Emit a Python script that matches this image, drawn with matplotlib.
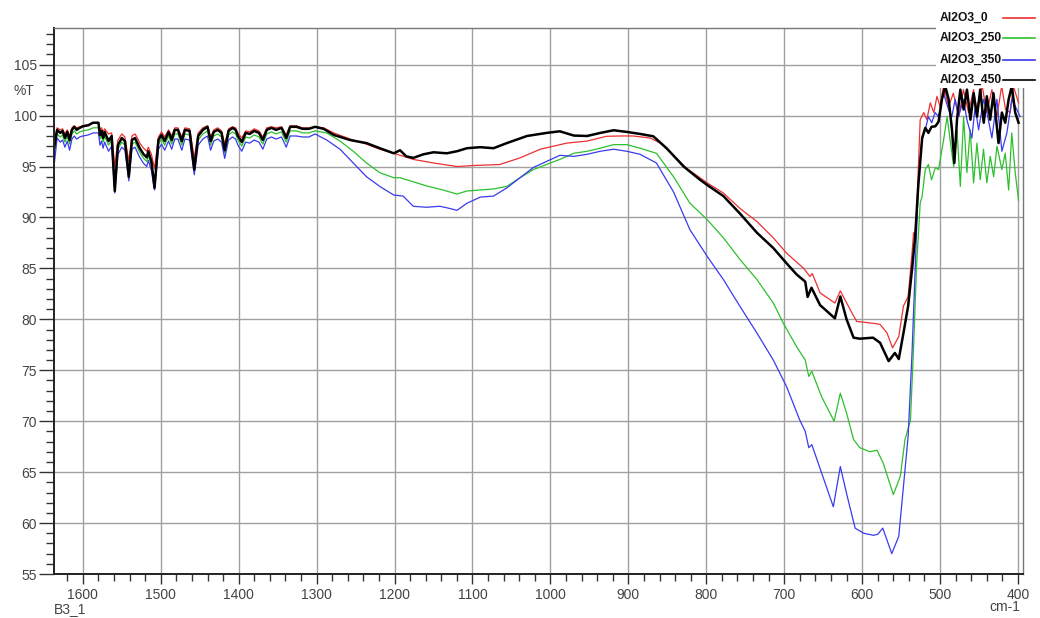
import matplotlib
matplotlib.use("Agg")
import matplotlib.pyplot as plt
from matplotlib.ticker import MultipleLocator
from matplotlib.patches import Rectangle
from matplotlib.lines import Line2D
import numpy as np

plt.rcParams['font.family'] = ['Liberation Sans', 'DejaVu Sans']

labels = ['Al2O3_0', 'Al2O3_250', 'Al2O3_350', 'Al2O3_450']
colors = ['#ee3030', '#2cc02c', '#3a3aee', '#000000']

# noisy region shared by all four spectra (cm-1)
wn_a = [1637, 1633, 1629, 1626, 1623, 1620, 1617, 1614, 1611, 1608,
        1604, 1600, 1593, 1587, 1580, 1578, 1576, 1574, 1572, 1567,
        1563, 1559, 1555, 1550, 1546, 1541, 1537, 1533, 1530, 1527,
        1522, 1518, 1516, 1512, 1508, 1503, 1499, 1495, 1490, 1486,
        1482, 1478, 1473, 1469, 1463, 1457, 1452, 1446, 1440, 1436,
        1432, 1427, 1422, 1418, 1413, 1408, 1404, 1401, 1396, 1391,
        1386, 1380, 1374, 1369, 1364, 1358, 1352, 1345, 1339, 1334,
        1326, 1318, 1310, 1302]

t_a_0 = [97.3, 98.8, 98.6, 98.7, 98.2, 98.6, 98.0, 98.8, 99.0, 98.8,
         98.9, 99.0, 99.1, 99.3, 99.3, 98.6, 98.8, 98.4, 98.7, 98.2,
         98.3, 95.0, 97.6, 98.2, 97.9, 95.5, 98.0, 98.2, 97.8, 97.3,
         96.8, 96.5, 96.9, 96.2, 94.8, 97.9, 98.4, 97.9, 98.6, 98.0,
         98.8, 98.8, 97.9, 98.8, 98.7, 95.8, 98.3, 98.8, 99.0, 97.9,
         98.6, 98.8, 98.5, 97.2, 98.7, 98.9, 98.8, 98.3, 97.8, 98.5,
         98.4, 98.7, 98.5, 97.9, 98.8, 98.9, 98.8, 98.9, 98.1, 99.0,
         99.0, 98.8, 98.8, 98.9]

t_a_250 = [96.0, 98.2, 97.9, 98.1, 97.4, 98.0, 97.2, 98.2, 98.5, 98.2,
           98.4, 98.5, 98.6, 98.8, 98.8, 97.7, 98.1, 97.4, 98.0, 97.1,
           97.6, 93.0, 96.7, 97.4, 97.1, 94.0, 97.2, 97.4, 96.9, 96.4,
           95.8, 95.5, 96.1, 95.1, 93.2, 97.2, 97.7, 97.1, 98.0, 97.2,
           98.2, 98.2, 97.1, 98.2, 98.1, 94.8, 97.6, 98.2, 98.5, 97.1,
           98.0, 98.2, 97.9, 96.3, 98.1, 98.4, 98.2, 97.6, 97.0, 97.9,
           97.8, 98.1, 97.9, 97.2, 98.2, 98.4, 98.2, 98.4, 97.4, 98.5,
           98.5, 98.3, 98.3, 98.5]

t_a_350 = [95.0, 97.8, 97.4, 97.6, 96.9, 97.5, 96.6, 97.7, 98.0, 97.7,
           97.9, 98.0, 98.1, 98.3, 98.3, 97.1, 97.5, 96.8, 97.4, 96.5,
           97.0, 92.4, 96.2, 96.9, 96.6, 93.6, 96.7, 96.9, 96.4, 95.9,
           95.3, 95.0, 95.6, 94.6, 92.7, 96.7, 97.2, 96.6, 97.5, 96.7,
           97.7, 97.7, 96.6, 97.7, 97.6, 94.2, 97.1, 97.7, 98.0, 96.6,
           97.5, 97.7, 97.4, 95.8, 97.6, 97.9, 97.7, 97.1, 96.5, 97.4,
           97.3, 97.6, 97.4, 96.7, 97.7, 97.9, 97.7, 97.9, 96.9, 98.0,
           98.0, 97.9, 97.9, 98.2]

t_a_450 = [96.8, 98.6, 98.3, 98.5, 97.8, 98.4, 97.6, 98.6, 98.9, 98.6,
           98.8, 98.95, 99.05, 99.3, 99.3, 98.1, 98.5, 97.8, 98.4, 97.5,
           98.0, 92.6, 97.1, 97.8, 97.5, 94.0, 97.6, 97.8, 97.3, 96.8,
           96.2, 95.9, 96.5, 95.5, 92.9, 97.6, 98.1, 97.5, 98.4, 97.6,
           98.6, 98.6, 97.5, 98.6, 98.5, 94.7, 98.0, 98.6, 98.9, 97.5,
           98.4, 98.6, 98.3, 96.6, 98.5, 98.8, 98.6, 98.0, 97.4, 98.3,
           98.2, 98.5, 98.3, 97.6, 98.6, 98.8, 98.6, 98.8, 97.8, 98.9,
           98.9, 98.7, 98.7, 98.9]

# rest of each spectrum (1300 -> 400 cm-1)
wn_b_0 = [1291, 1278, 1257, 1236, 1219, 1201, 1176, 1150, 1120, 1099,
          1065, 1039, 1013, 996, 979, 953, 928, 910, 894, 872,
          859, 842, 825, 808, 799, 778, 757, 735, 714, 697,
          675, 667, 664, 654, 635, 628, 615, 607, 596, 585,
          577, 568, 561, 553, 547, 541, 536, 534, 531, 528,
          525.5, 521, 517, 512.6, 508, 504, 500, 495.6, 489, 483,
          476, 470, 463.5, 457, 453, 446, 440, 433.5, 427, 421,
          416, 410, 406, 399.3]
t_b_0 = [98.8, 98.3, 97.7, 97.2, 96.7, 96.3, 95.7, 95.35, 95.0, 95.1,
         95.2, 95.85, 96.7, 97.0, 97.3, 97.5, 97.97, 98.0, 98.0, 97.8,
         97.3, 96.1, 94.8, 93.9, 93.4, 92.4, 90.9, 89.6, 88.0, 86.5,
         85.0, 84.2, 84.5, 82.6, 81.6, 82.8, 80.9, 79.8, 79.7, 79.6,
         79.5, 78.65, 77.2, 78.3, 81.3, 82.25, 86.5, 88.5, 88.3, 94.7,
         99.6, 100.3, 99.6, 101.25, 100.3, 101.9, 100.9, 102.9, 100.9, 102.2,
         99.9, 102.55, 100.3, 102.55, 100.6, 102.9, 100.3, 102.55, 99.9, 102.9,
         100.6, 100.3, 102.9, 101.25]

wn_b_250 = [1287, 1270, 1253, 1236, 1219, 1201, 1193, 1176, 1159, 1138,
            1120, 1107, 1090, 1073, 1056, 1039, 1022, 1005, 988, 970,
            953, 936, 919, 902, 885, 864, 842, 821, 799, 778,
            757, 735, 714, 701, 684, 673, 668.5, 664.6, 652, 636,
            628, 620, 611, 603, 590, 581, 573, 560, 551, 545,
            538, 534, 530, 525.5, 523, 519, 515, 511, 506, 502,
            495.5, 491, 487, 482.6, 478.3, 474, 469.8, 465.6, 461.4, 457,
            452.7, 448.5, 444.3, 440, 435.6, 431.3, 427, 420.7, 416.4, 412,
            408, 403.6, 399.3]
t_b_250 = [98.3, 97.5, 96.5, 95.35, 94.4, 93.9, 93.9, 93.5, 93.1, 92.7,
           92.3, 92.6, 92.7, 92.8, 93.05, 93.9, 94.7, 95.2, 95.7, 96.3,
           96.5, 96.8, 97.15, 97.15, 96.8, 96.3, 94.0, 91.4, 89.8, 88.0,
           85.9, 83.9, 81.6, 79.6, 77.3, 76.0, 74.4, 74.9, 72.4, 70.0,
           72.75, 70.8, 68.2, 67.4, 67.0, 67.15, 65.9, 62.8, 64.6, 68.2,
           70.1, 77.3, 85.5, 91.4, 92.1, 94.7, 95.2, 93.7, 94.9, 94.7,
           97.6, 99.9, 97.6, 95.0, 98.6, 93.05, 99.9, 94.4, 98.6, 93.4,
           97.3, 93.7, 96.7, 93.4, 96.0, 94.0, 97.0, 94.7, 96.3, 92.7,
           98.3, 94.4, 91.7]

wn_b_350 = [1287, 1270, 1253, 1236, 1219, 1201, 1189, 1176, 1159, 1142,
            1130, 1120, 1107, 1090, 1073, 1056, 1039, 1022, 1005, 988,
            970, 953, 936, 919, 902, 885, 864, 842, 821, 799,
            778, 757, 735, 714, 697, 680, 673, 668.5, 664.6, 652,
            637, 628, 620, 609, 598, 585.5, 580, 573.5, 562, 553,
            547, 541, 536, 532, 528, 523.4, 519, 515, 510.7, 506.4,
            502, 495.6, 489.2, 484.9, 480.6, 476.4, 469.9, 465.6, 459.2, 455,
            450.6, 444.2, 439.9, 433.5, 427.1, 420.7, 414.3, 407.9, 401.5, 397.2]
t_b_350 = [97.6, 96.7, 95.35, 94.0, 93.05, 92.2, 92.1, 91.1, 91.0, 91.1,
           90.9, 90.7, 91.4, 92.0, 92.1, 92.9, 93.9, 94.9, 95.5, 96.1,
           96.0, 96.2, 96.5, 96.7, 96.5, 96.2, 95.35, 92.5, 88.8, 86.2,
           83.9, 81.3, 78.65, 76.0, 73.4, 70.1, 69.0, 67.4, 67.7, 64.9,
           61.6, 65.55, 62.9, 59.5, 59.0, 58.8, 58.9, 59.5, 57.0, 58.7,
           63.6, 68.5, 76.7, 84.9, 93.1, 97.6, 98.6, 99.9, 99.3, 100.3,
           99.9, 102.2, 100.6, 99.9, 101.6, 99.9, 101.6, 99.6, 97.8, 100.9,
           98.6, 101.6, 100.3, 97.8, 101.6, 96.5, 98.3, 101.6, 100.6, 99.9]

wn_b_450 = [1291, 1278, 1257, 1236, 1219, 1201, 1193, 1185, 1176, 1163,
            1150, 1133, 1120, 1107, 1090, 1073, 1056, 1030, 1005, 988,
            970, 953, 936, 919, 902, 885, 868, 851, 829, 808,
            799, 778, 757, 735, 714, 697, 684, 673, 670, 665,
            654, 635, 628, 620, 611, 603, 586, 577, 566, 558,
            553, 547, 541, 536, 532, 528, 523, 519, 515, 511,
            506, 502, 497.6, 493.4, 489, 484.7, 481.7, 478.3, 474, 469.8,
            465.5, 461, 457, 452.6, 448.5, 444, 440, 435.7, 431.5, 425,
            420.7, 416.4, 412, 408, 403.6, 399.3]
t_b_450 = [98.7, 98.1, 97.6, 97.3, 96.8, 96.3, 96.6, 96.0, 95.85, 96.2,
           96.4, 96.3, 96.5, 96.8, 96.9, 96.8, 97.3, 98.0, 98.3, 98.46,
           98.04, 98.0, 98.3, 98.56, 98.4, 98.2, 97.97, 96.8, 95.0, 93.7,
           93.2, 92.1, 90.4, 88.5, 87.0, 85.5, 84.4, 83.7, 82.2, 83.1,
           81.4, 80.1, 82.25, 80.0, 78.2, 78.1, 78.2, 77.7, 75.9, 76.7,
           76.1, 78.65, 81.3, 84.9, 88.1, 93.1, 97.8, 98.8, 98.3, 98.9,
           98.95, 99.4, 101.6, 102.9, 101.6, 98.6, 95.35, 99.6, 102.55, 100.6,
           102.55, 99.6, 102.2, 99.9, 102.55, 99.3, 101.9, 99.6, 102.2, 97.3,
           100.3, 99.3, 101.6, 102.9, 100.3, 99.3]

series = [
    (wn_a + wn_b_0, t_a_0 + t_b_0),
    (wn_a + wn_b_250, t_a_250 + t_b_250),
    (wn_a + wn_b_350, t_a_350 + t_b_350),
    (wn_a + wn_b_450, t_a_450 + t_b_450),
]
widths = [0.9, 0.9, 0.9, 1.8]

W, H = 1040, 618
fig = plt.figure(figsize=(10.4, 6.18), dpi=100)
ax = fig.add_axes([54/W, 1 - 574/H, (1023 - 54)/W, (574 - 28)/H])

for (x, y), c, lw, lab in zip(series, colors, widths, labels):
    ax.plot(x, y, color=c, lw=lw, label=lab)

ax.set_xlim(1637, 393.6)
ax.set_ylim(55, 108.6)

ax.xaxis.set_major_locator(MultipleLocator(100))
ax.xaxis.set_minor_locator(MultipleLocator(20))
ax.yaxis.set_major_locator(MultipleLocator(5))
ax.yaxis.set_minor_locator(MultipleLocator(1))
ax.grid(True, which='major', color='#a0a0a0', lw=1.0)
ax.set_axisbelow(True)

ax.tick_params(axis='both', which='both', direction='out', colors='#333333',
               labelcolor='#444444', labelsize=10)
ax.tick_params(axis='y', which='major', length=11, width=1, pad=1.5)
ax.tick_params(axis='y', which='minor', length=6, width=1)
ax.tick_params(axis='x', which='major', length=7, width=1, pad=3)
ax.tick_params(axis='x', which='minor', length=5, width=1)

for side in ['left', 'bottom']:
    ax.spines[side].set_color('#222222')
    ax.spines[side].set_linewidth(1.4)
for side in ['top', 'right']:
    ax.spines[side].set_color('#777777')
    ax.spines[side].set_linewidth(1.0)

fig.text(24/W, 1 - 91/H, '%T', fontsize=10, color='#444444', ha='center', va='center')
fig.text(70/W, 1 - 609/H, 'B3_1', fontsize=10, color='#444444', ha='center', va='center')
fig.text(1005/W, 1 - 607/H, 'cm-1', fontsize=10, color='#444444', ha='center', va='center')

# legend block: white box over the plot corner, text column left-aligned, sample lines on the right
ax.add_patch(Rectangle((936/W, 1 - 88/H), (W - 936)/W, 88/H,
                       transform=fig.transFigure, facecolor='white',
                       edgecolor='none', zorder=10, clip_on=False))
rows_y = [18, 38, 60, 80]
for lab, c, ry in zip(labels, colors, rows_y):
    fig.text(940/W, 1 - ry/H, lab, fontsize=8.7, fontweight='bold', color='#111111',
             ha='left', va='center', zorder=6)
    fig.add_artist(Line2D([1003/W, 1035/W], [1 - ry/H, 1 - ry/H],
                          transform=fig.transFigure, color=c, lw=1.2, zorder=6))

fig.savefig('out.png', dpi=100)
